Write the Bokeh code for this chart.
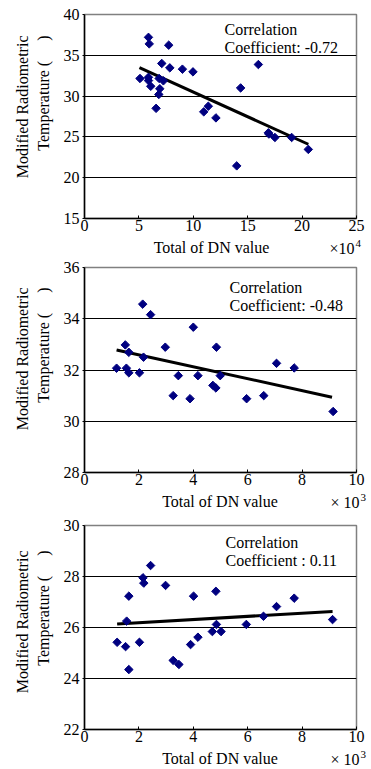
import numpy as np
from bokeh.plotting import figure
from bokeh.models import Range1d, FixedTicker, Label
from bokeh.layouts import column, row
from bokeh.embed import file_html
from bokeh.resources import INLINE

FONT = "Liberation Serif"

# ---------------- data ----------------
# Panel 1 (x in units of 10^4)
x1 = [5.1, 5.88, 5.95, 5.88, 5.88, 6.09, 6.58, 6.86, 6.83, 6.92, 7.1, 7.25, 7.74, 7.84,
      9.0, 9.97, 10.96, 11.38, 12.08, 13.99, 14.35, 15.98, 16.9, 16.95, 17.5, 19.04, 20.57]
y1 = [32.16, 37.2, 36.4, 32.3, 31.9, 31.2, 28.5, 32.16, 30.2, 30.9, 34.0, 31.87, 36.24, 33.46,
      33.3, 32.97, 28.07, 28.76, 27.33, 21.45, 31.0, 33.87, 25.5, 25.35, 24.93, 24.93, 23.47]
trend1_x = [5.05, 20.57]
trend1_y = [33.5, 24.1]

# Panel 2 (x in units of 10^3)
x2 = [1.18, 1.50, 1.54, 1.63, 1.63, 2.02, 2.14, 2.17, 2.43, 2.97, 3.26, 3.45, 3.88, 4.0,
      4.17, 4.72, 4.83, 4.85, 4.99, 5.96, 6.59, 7.06, 7.71, 9.14]
y2 = [32.07, 32.98, 32.07, 32.69, 31.89, 31.89, 34.57, 32.5, 34.16, 32.89, 31.0, 31.78, 30.88, 33.67,
      31.78, 31.40, 31.3, 32.89, 31.78, 30.88, 31.0, 32.26, 32.08, 30.38]
trend2_x = [1.18, 9.10]
trend2_y = [32.78, 30.94]

# Panel 3 (x in units of 10^3)
x3 = [1.20, 1.51, 1.55, 1.63, 1.63, 2.02, 2.15, 2.18, 2.43, 2.98, 3.26, 3.47, 3.90, 4.01,
      4.17, 4.70, 4.83, 4.85, 5.02, 5.95, 6.58, 7.06, 7.71, 9.12]
y3 = [25.42, 25.25, 26.25, 27.23, 24.35, 25.42, 27.95, 27.74, 28.43, 27.65, 24.71, 24.55, 25.33, 27.23,
      25.62, 25.84, 27.42, 26.12, 25.84, 26.12, 26.44, 26.82, 27.15, 26.31]
trend3_x = [1.20, 9.12]
trend3_y = [26.14, 26.63]

ticks_x1 = [0, 5, 10, 15, 20, 25]
ticks_y1 = [15, 20, 25, 30, 35, 40]
ticks_x2 = [0, 2, 4, 6, 8, 10]
ticks_y2 = [28, 30, 32, 34, 36]
ticks_y3 = [22, 24, 26, 28, 30]

coef_texts = ["Coefficient: -0.72", "Coefficient: -0.48", "Coefficient : 0.11"]
y_title_1 = "Modified Radiometric"
y_title_2 = "Temperature (\u00a0\u00a0\u00a0\u00a0\u00a0)"
x_title = "Total of DN value"
exps = ["4", "3", "3"]

W_LEFT = 60
W_TOTAL = 371


def lab(p, text, x, y, size="16px", align="left", baseline="middle", angle=0.0):
    p.add_layout(Label(x=x, y=y, x_units="screen", y_units="screen", text=text,
                       text_font=FONT, text_font_size=size, text_align=align,
                       text_baseline=baseline, angle=angle, text_color="black"))


def text_fig(w, h):
    f = figure(width=w, height=h, output_backend="svg", toolbar_location=None,
               x_axis_type=None, y_axis_type=None, min_border=0,
               x_range=Range1d(0, 1), y_range=Range1d(0, 1))
    f.outline_line_color = None
    f.background_fill_color = "white"
    f.border_fill_color = "white"
    return f


def make_panel(h, top, bottom, xr, yr, xt, yt, xs, ys, tx, ty, coef, exp,
               corr_xy, ytitle_top, xtitle_x, times_text, times_right):
    p = figure(width=W_TOTAL - W_LEFT, height=h, x_range=Range1d(*xr), y_range=Range1d(*yr),
               output_backend="svg", toolbar_location=None,
               min_border_left=83 - W_LEFT, min_border_right=15,
               min_border_top=top, min_border_bottom=bottom)
    p.background_fill_color = "white"
    p.border_fill_color = "white"
    p.outline_line_color = "#808080"
    p.outline_line_width = 1.5
    p.xgrid.grid_line_color = None
    p.ygrid.grid_line_color = "black"
    p.ygrid.grid_line_width = 1
    p.xaxis.ticker = FixedTicker(ticks=xt)
    p.yaxis.ticker = FixedTicker(ticks=yt)
    for ax in (p.xaxis[0], p.yaxis[0]):
        ax.axis_line_color = "black"
        ax.axis_line_width = 1.5
        ax.major_tick_line_color = "black"
        ax.minor_tick_line_color = None
        ax.major_label_text_font = FONT
        ax.major_label_text_font_size = "16px"
        ax.major_label_text_color = "black"
    p.xaxis.major_tick_in = 3
    p.xaxis.major_tick_out = 0
    p.xaxis.major_label_standoff = 1
    p.yaxis.major_tick_in = 0
    p.yaxis.major_tick_out = 2
    p.yaxis.major_label_standoff = 3

    p.line(tx, ty, line_color="black", line_width=3)
    p.scatter(xs, ys, marker="square", angle=np.pi / 4, size=6,
              fill_color="#000080", line_color="#000080")

    lab(p, "Correlation", corr_xy[0], corr_xy[1])
    lab(p, coef, corr_xy[0], corr_xy[1] - 18)

    # left strip with the two-line rotated y title
    yl = text_fig(W_LEFT, h)
    lab(yl, y_title_1, 21.7, ytitle_top, align="right", angle=np.pi / 2)
    lab(yl, y_title_2, 42.7, ytitle_top, align="right", angle=np.pi / 2)

    # strip below with x title and multiplier
    xl = text_fig(W_TOTAL, 20)
    lab(xl, x_title, xtitle_x, 11, align="center")
    lab(xl, times_text, times_right, 10, align="right")
    lab(xl, exp, times_right + 1, 15, size="11px", align="left")

    return column(row(yl, p), xl)


panel1 = make_panel(238, 14, 20, (0, 25), (15, 40), ticks_x1, ticks_y1, x1, y1,
                    trend1_x, trend1_y, coef_texts[0], exps[0],
                    corr_xy=(140, 189), ytitle_top=183, xtitle_x=211,
                    times_text="×10", times_right=354)
panel2 = make_panel(234, 9, 20, (0, 10), (28, 36), ticks_x2, ticks_y2, x2, y2,
                    trend2_x, trend2_y, coef_texts[1], exps[1],
                    corr_xy=(145, 185), ytitle_top=185, xtitle_x=219.5,
                    times_text="× 10", times_right=359)
panel3 = make_panel(237, 13, 20, (0, 10), (22, 30), ticks_x2, ticks_y3, x3, y3,
                    trend3_x, trend3_y, coef_texts[2], exps[2],
                    corr_xy=(141, 187), ytitle_top=179, xtitle_x=219.5,
                    times_text="× 10", times_right=359)

layout = column(panel1, panel2, panel3, spacing=0)
open("out.html", "w").write(file_html(layout, INLINE))
